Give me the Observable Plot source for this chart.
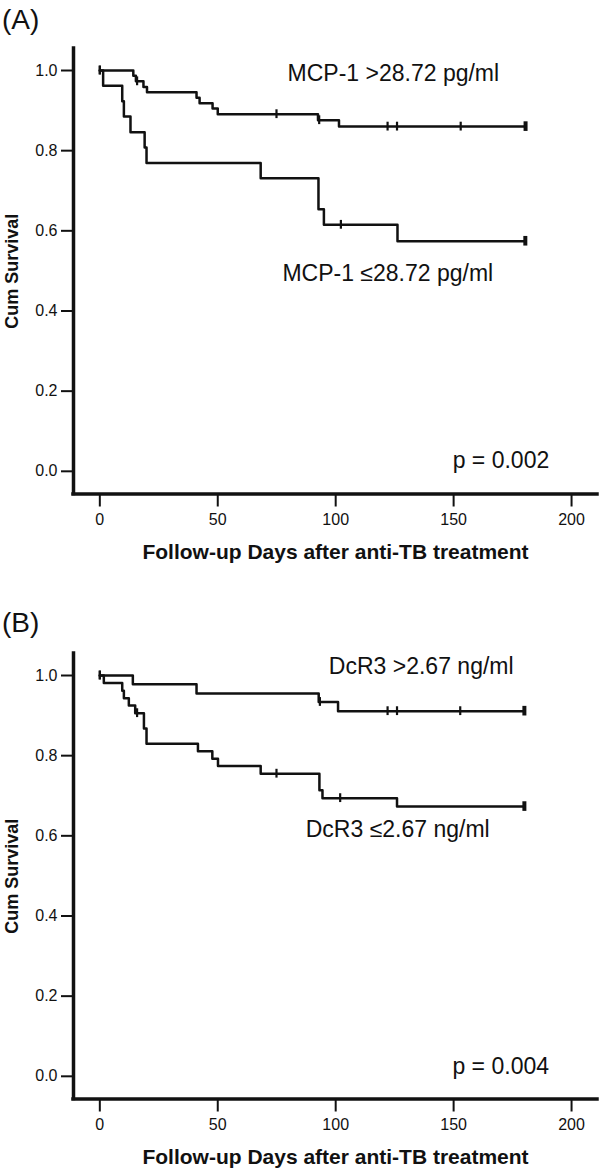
<!DOCTYPE html>
<html><head><meta charset="utf-8">
<script src="https://cdn.jsdelivr.net/npm/d3@7"></script>
<script src="https://cdn.jsdelivr.net/npm/@observablehq/plot@0.6"></script>
<style>
body{margin:0;background:#fff;font-family:"Liberation Sans",Arial,sans-serif;}
#wrap{position:relative;width:600px;height:1171px;overflow:hidden;}
.panel{position:absolute;left:0;}
.tag{position:absolute;left:2px;font-size:28px;line-height:32px;color:#111;}
[aria-label$="axis tick"] path{stroke-width:2px;}
[aria-label$="tick label"]{font-size:16px;}
</style></head><body>
<div id="wrap">
<div class="panel" id="pa" style="top:0"></div>
<div class="panel" id="pb" style="top:605px"></div>
<div class="tag" style="top:4px">(A)</div>
<div class="tag" style="top:607px">(B)</div>
</div>
<script>
// ---- Data ----
const xTicks = [0, 50, 100, 150, 200];
const yTicks = [0.0, 0.2, 0.4, 0.6, 0.8, 1.0];

// Panel A: MCP-1
const daysA_high = [0, 14.2, 15.3, 18.5, 20.0, 41.0, 42.3, 47.8, 50.0, 92.5, 101.4, 180.5];
const survA_high = [1.0, 0.987, 0.973, 0.959, 0.946, 0.932, 0.918, 0.905, 0.891, 0.876, 0.860, 0.860];
const censA_high = [0, 15.8, 74.9, 93.0, 122, 126, 153, 180.5];

const daysA_low = [0, 1.4, 9.5, 10.2, 13.0, 19.0, 19.8, 68.2, 92.7, 95.0, 126.2, 180.4];
const survA_low = [1.0, 0.962, 0.923, 0.885, 0.846, 0.808, 0.769, 0.731, 0.654, 0.615, 0.574, 0.574];
const censA_low = [0, 102.2, 180.4];

// Panel B: DcR3
const daysB_high = [0, 14.0, 41.0, 92.8, 101.0, 180.0];
const survB_high = [1.0, 0.978, 0.955, 0.934, 0.911, 0.911];
const censB_high = [0, 93.3, 122, 126, 152.8, 180.0];

const daysB_low = [0, 1.7, 9.5, 10.2, 12.3, 15.0, 18.7, 19.8, 41.6, 47.7, 50.1, 68.2, 93.1, 94.4, 126.0, 180.0];
const survB_low = [1.0, 0.981, 0.962, 0.943, 0.925, 0.906, 0.868, 0.830, 0.811, 0.792, 0.774, 0.755, 0.714, 0.694, 0.673, 0.673];
const censB_low = [0, 15.8, 74.9, 101.9, 180.0];

const labelsA = ["MCP-1 >28.72 pg/ml", "MCP-1 \u226428.72 pg/ml", "p = 0.002"];
const labelsB = ["DcR3 >2.67 ng/ml", "DcR3 \u22642.67 ng/ml", "p = 0.004"];

const xTitle = "Follow-up Days after anti-TB treatment";
const yTitle = "Cum Survival";

// ---- helpers ----
const xDomain = [-11.16, 211];
const yDomain = [-0.0566, 1.0549];
const ink = "#111";

function steps(days, surv) { return days.map((d, i) => ({day: d, s: surv[i]})); }
function survAt(days, surv, t) {
  let v = surv[0];
  for (let i = 0; i < days.length; i++) if (days[i] <= t) v = surv[i];
  return v;
}
function cens(days, surv, c) { return c.map(t => ({day: t, s: survAt(days, surv, t)})); }

function panel(el, hi, lo, labels, pos) {
  const hiSteps = steps(hi[0], hi[1]);
  const loSteps = steps(lo[0], lo[1]);
  const hiC = cens(hi[0], hi[1], hi[2]);
  const loC = cens(lo[0], lo[1], lo[2]);
  const allC = hiC.slice(0, -1).concat(loC.slice(0, -1));
  const endC = [hiC[hiC.length - 1], loC[loC.length - 1]];
  const chart = Plot.plot({
    width: 600, height: 566,
    marginLeft: 73, marginRight: 3, marginTop: 48, marginBottom: 72.5,
    style: {fontFamily: "'Liberation Sans', Arial, sans-serif", fontSize: "16px", color: ink, background: "transparent"},
    x: {domain: xDomain, ticks: xTicks, tickSize: 13, tickPadding: 7, label: null},
    y: {domain: yDomain, ticks: yTicks, tickFormat: d3.format(".1f"), tickSize: 12, tickPadding: 4, label: null},
    marks: [
      Plot.ruleX([xDomain[0]], {stroke: ink, strokeWidth: 3.5, strokeLinecap: "square"}),
      Plot.ruleY([yDomain[0]], {stroke: ink, strokeWidth: 3.5, strokeLinecap: "square"}),
      Plot.line(hiSteps, {x: "day", y: "s", curve: "step-after", stroke: ink, strokeWidth: 2.5}),
      Plot.line(loSteps, {x: "day", y: "s", curve: "step-after", stroke: ink, strokeWidth: 2.5}),
      Plot.ruleX(allC, {x: "day", y1: d => d.s - 0.011, y2: d => d.s + 0.011, stroke: ink, strokeWidth: 2.2}),
      Plot.ruleX(endC, {x: "day", y1: d => d.s - 0.012, y2: d => d.s + 0.012, stroke: ink, strokeWidth: 4}),
      Plot.text([labels[0]], {x: pos[0][0], y: pos[0][1], textAnchor: "start", fontSize: 23, fill: ink}),
      Plot.text([labels[1]], {x: pos[1][0], y: pos[1][1], textAnchor: "start", fontSize: 23, fill: ink}),
      Plot.text([labels[2]], {x: pos[2][0], y: pos[2][1], textAnchor: "start", fontSize: 23, fill: ink}),
      Plot.text([xTitle], {frameAnchor: "bottom", dy: 58, lineAnchor: "middle", textAnchor: "middle", fontSize: 21, fontWeight: "bold", fill: ink}),
      Plot.text([yTitle], {frameAnchor: "left", dx: -61, rotate: -90, textAnchor: "middle", lineAnchor: "middle", fontSize: 18, fontWeight: "bold", fill: ink})
    ]
  });
  document.getElementById(el).appendChild(chart);
}

panel("pa", [daysA_high, survA_high, censA_high], [daysA_low, survA_low, censA_low], labelsA,
      [[79.6, 0.9925], [77.4, 0.493], [149.6, 0.027]]);
panel("pb", [daysB_high, survB_high, censB_high], [daysB_low, survB_low, censB_low], labelsB,
      [[97.1, 1.023], [87.3, 0.615], [149.5, 0.025]]);
</script>
</body></html>
